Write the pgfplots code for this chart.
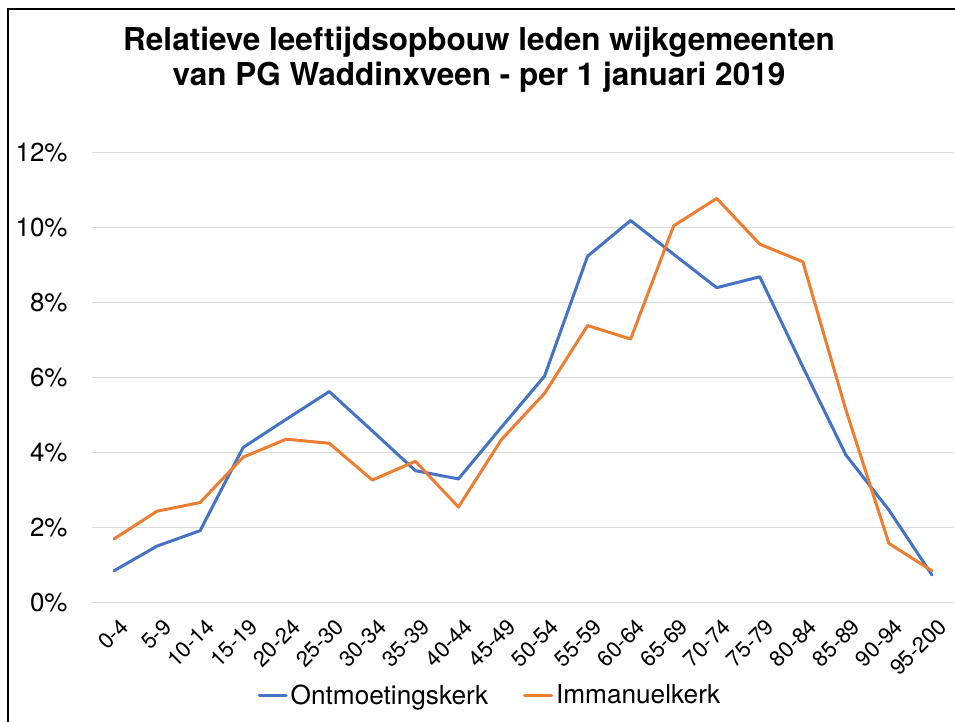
\documentclass[border=0pt]{standalone}
\usepackage{fontspec}
\setmainfont{TeX Gyre Heros}
\usepackage{pgfplots}
\pgfplotsset{compat=1.18}
\definecolor{exblue}{HTML}{4472C4}
\definecolor{exorange}{HTML}{ED7D31}
\definecolor{gridgray}{HTML}{D9D9D9}

% age groups 0..19, values in percent
\pgfplotstableread{
idx ontm imm
0  0.84  1.69
1  1.50  2.43
2  1.91  2.66
3  4.13  3.87
4  4.88  4.35
5  5.62  4.24
6  4.57  3.26
7  3.51  3.76
8  3.29  2.54
9  4.67  4.34
10 6.03  5.57
11 9.23  7.38
12 10.18 7.02
13 9.28  10.04
14 8.39  10.77
15 8.68  9.55
16 6.28  9.08
17 3.93  5.13
18 2.46  1.57
19 0.73  0.84
}\agedata

\begin{document}
\begin{tikzpicture}
\useasboundingbox (0,0) rectangle (477.5pt,-361pt);
\draw[line width=1pt] (4pt,-361pt) -- (4pt,-4.5pt) -- (478pt,-4.5pt);

\node[anchor=base, font=\fontsize{15.75}{18}\selectfont\bfseries] at (239.5pt,-25.5pt)
  {Relatieve leeftijdsopbouw leden wijkgemeenten};
\node[anchor=base, font=\fontsize{15.75}{18}\selectfont\bfseries] at (239.5pt,-43pt)
  {van PG Waddinxveen - per 1 januari 2019};

\begin{axis}[
  at={(46.25pt,-301.15pt)}, anchor=south west,
  scale only axis, width=430.5pt, height=225pt,
  xmin=-0.5, xmax=19.5, ymin=0, ymax=12,
  axis line style={draw=none},
  tick style={draw=none},
  ymajorgrids, grid style={gridgray, line width=0.5pt},
  ytick={0,2,4,6,8,10,12},
  yticklabels={0\%,2\%,4\%,6\%,8\%,10\%,12\%},
  yticklabel style={font=\fontsize{13}{15}\selectfont, anchor=east, inner sep=0pt, xshift=-12.25pt},
  xtick=data,
  xticklabels={0-4,5-9,10-14,15-19,20-24,25-30,30-34,35-39,40-44,45-49,50-54,55-59,60-64,65-69,70-74,75-79,80-84,85-89,90-94,95-200},
  xticklabel style={font=\fontsize{11}{13}\selectfont, rotate=45, anchor=east, inner sep=0pt, xshift=-3.5pt, yshift=-11pt},
  legend columns=2,
  legend style={draw=none, fill=none, at={(0.4605,-0.208)}, anchor=center,
    font=\fontsize{13.1}{15}\selectfont,
    nodes={inner sep=0pt},
    /tikz/every odd column/.append style={column sep=1.5pt},
    /tikz/every even column/.append style={column sep=17.5pt}},
  legend image code/.code={\draw[#1] (0pt,0pt) -- (13.5pt,0pt);},
]
\addplot[exblue, line width=1.5pt, line join=round, line cap=round] table[x=idx, y=ontm] {\agedata};
\addlegendentry{Ontmoetingskerk}
\addplot[exorange, line width=1.5pt, line join=round, line cap=round] table[x=idx, y=imm] {\agedata};
\addlegendentry{Immanuelkerk}
\end{axis}
\end{tikzpicture}
\end{document}
